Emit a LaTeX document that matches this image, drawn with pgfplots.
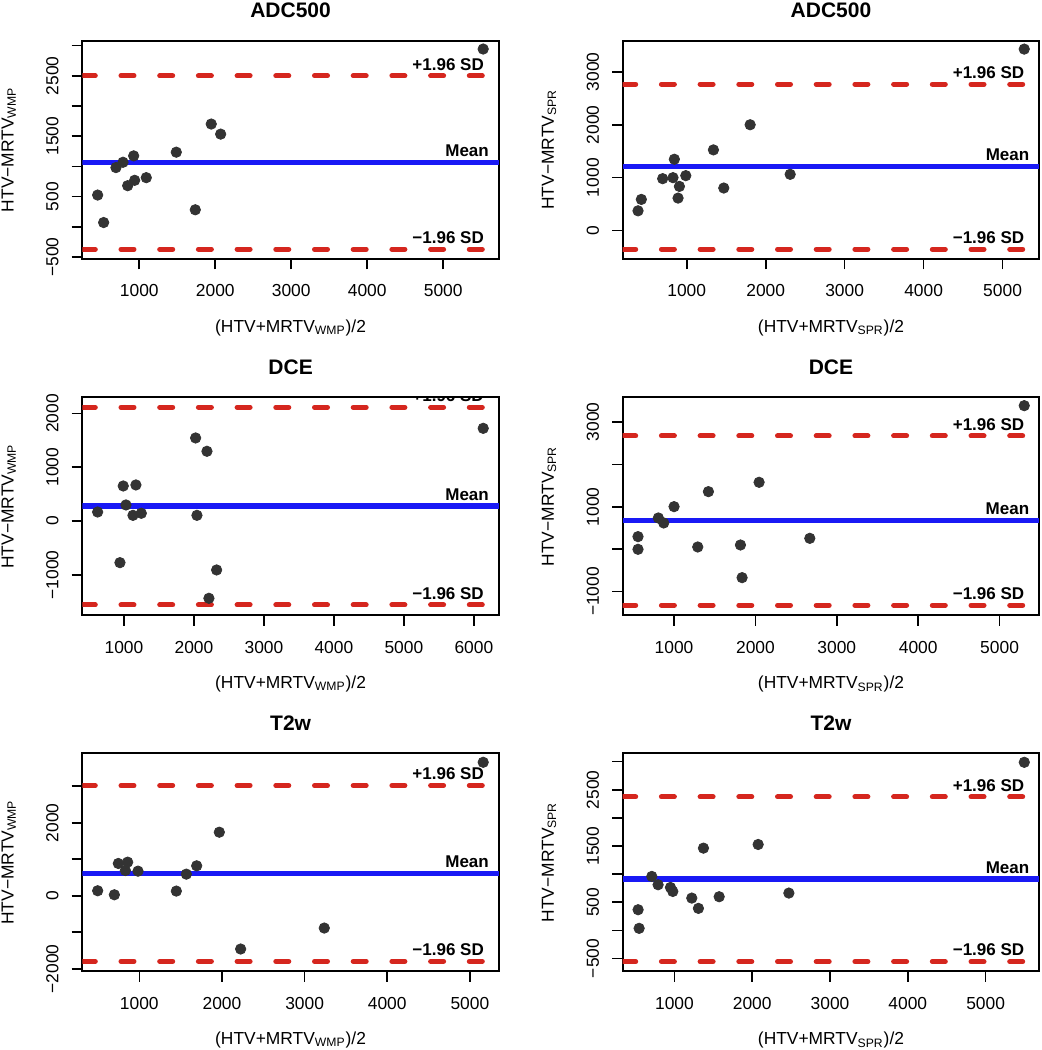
\documentclass[border=0pt]{standalone}
\usepackage{fontspec}
\setmainfont{Liberation Sans}
\usepackage{pgfplots}
\pgfplotsset{compat=1.18}
\definecolor{redd}{RGB}{213,38,30}
\definecolor{bluel}{RGB}{25,25,245}
\definecolor{dotc}{RGB}{51,51,51}
\tikzset{lab/.style={font=\bfseries\fontsize{8.5}{10}\selectfont, inner sep=0pt, anchor=east}}
\pgfplotsset{
  ba/.style={
    scale only axis, width=208.3pt, height=109pt,
    anchor=north west, clip=true,
    axis line style={line width=0.9pt, black},
    tick style={line width=0.8pt, black},
    major tick length=5.3pt, tick align=outside, tick pos=left,
    minor tick num=0,
    xticklabel style={font=\fontsize{8.7}{9}\selectfont, anchor=north, inner sep=0pt, yshift=-7.4pt},
    yticklabel style={font=\fontsize{8.7}{9}\selectfont, xshift=-6.35pt, rotate=90, anchor=south, inner sep=0pt},
    label style={font=\fontsize{8.7}{9}\selectfont},
    xlabel style={at={(axis description cs:0.5,-0.3165)}, anchor=center},
    ylabel style={at={(axis description cs:-0.1767,0.5)}, anchor=center},
    title style={at={(axis description cs:0.5,1.0826)}, anchor=center, font=\bfseries\fontsize{10.5}{12}\selectfont},
  },
  pts/.style={only marks, mark=*, mark size=2.6pt, dotc, mark options={fill=dotc, draw=dotc}},
  sdl/.style={redd, line width=2.5pt, dash pattern=on 6.5pt off 12.85pt, line cap=round},
  mnl/.style={bluel, line width=2.7pt},
}
\newcommand{\wmpx}{(HTV+MRTV\textsubscript{WMP})/2}
\newcommand{\wmpy}{HTV−MRTV\textsubscript{WMP}}
\newcommand{\sprx}{(HTV+MRTV\textsubscript{SPR})/2}
\newcommand{\spry}{HTV−MRTV\textsubscript{SPR}}
\begin{document}
\begin{tikzpicture}
\path[use as bounding box] (0,0) rectangle (521pt,-525pt);

% ---------- Panel 1: ADC500, WMP
\begin{axis}[ba, at={(41.15pt,-20.35pt)},
  title={ADC500}, xlabel={\wmpx}, ylabel={\wmpy},
  xmin=250, xmax=5733, ymin=-528, ymax=3082,
  xtick={1000,2000,3000,4000,5000}, xticklabels={1000,2000,3000,4000,5000},
  ytick={-500,0,500,1000,1500,2000,2500,3000},
  yticklabels={−500,,500,,1500,,2500,}]
\addplot[sdl] coordinates {(250,2500) (5733,2500)};
\addplot[sdl] coordinates {(250,-372) (5733,-372)};
\addplot[mnl] coordinates {(250,1064) (5733,1064)};
\addplot[pts] coordinates {
(5526,2944) (452,526) (531,71) (693,981) (786,1069) (926,1175) (847,681)
(939,770) (1092,814) (1487,1236) (1947,1702) (2071,1535) (1737,282)};
\node[lab, xshift=-7.35pt, yshift=5.75pt] at ({rel axis cs:1,0}|-{axis cs:0,2500}) {+1.96 SD};
\node[lab, xshift=-4.85pt, yshift=5.75pt] at ({rel axis cs:1,0}|-{axis cs:0,1064}) {Mean};
\node[lab, xshift=-7.35pt, yshift=5.75pt] at ({rel axis cs:1,0}|-{axis cs:0,-372}) {−1.96 SD};
\end{axis}

% ---------- Panel 2: ADC500, SPR
\begin{axis}[ba, at={(311.35pt,-20.35pt)},
  title={ADC500}, xlabel={\sprx}, ylabel={\spry},
  xmin=189, xmax=5465, ymin=-532, ymax=3589,
  xtick={1000,2000,3000,4000,5000}, xticklabels={1000,2000,3000,4000,5000},
  ytick={0,1000,2000,3000},
  yticklabels={0,1000,2000,3000}]
\addplot[sdl] coordinates {(189,2766) (5465,2766)};
\addplot[sdl] coordinates {(189,-354) (5465,-354)};
\addplot[mnl] coordinates {(189,1208) (5465,1208)};
\addplot[pts] coordinates {
(5274,3430) (383,373) (425,589) (695,981) (826,1000) (843,1348) (907,835)
(890,614) (988,1038) (1338,1525) (1469,804) (1803,2000) (2310,1063)};
\node[lab, xshift=-7.35pt, yshift=5.75pt] at ({rel axis cs:1,0}|-{axis cs:0,2766}) {+1.96 SD};
\node[lab, xshift=-4.85pt, yshift=5.75pt] at ({rel axis cs:1,0}|-{axis cs:0,1208}) {Mean};
\node[lab, xshift=-7.35pt, yshift=5.75pt] at ({rel axis cs:1,0}|-{axis cs:0,-354}) {−1.96 SD};
\end{axis}

% ---------- Panel 3: DCE, WMP
\begin{axis}[ba, at={(41.15pt,-198.65pt)},
  title={DCE}, xlabel={\wmpx}, ylabel={\wmpy},
  xmin=405, xmax=6357, ymin=-1754, ymax=2300,
  xtick={1000,2000,3000,4000,5000,6000}, xticklabels={1000,2000,3000,4000,5000,6000},
  ytick={-1000,0,1000,2000},
  yticklabels={−1000,0,1000,2000}]
\addplot[sdl] coordinates {(405,2114) (6357,2114)};
\addplot[sdl] coordinates {(405,-1562) (6357,-1562)};
\addplot[mnl] coordinates {(405,277) (6357,277)};
\addplot[pts] coordinates {
(6133,1723) (624,167) (943,-775) (990,651) (1029,298) (1129,105) (1171,670)
(1248,143) (2024,1544) (2043,105) (2186,1296) (2214,-1438) (2324,-911)};
\begin{scope}
\clip (rel axis cs:0,0) rectangle (rel axis cs:1,1);
\node[lab, xshift=-7.35pt, yshift=5.75pt] at ({rel axis cs:1,0}|-{axis cs:0,2114}) {+1.96 SD};
\end{scope}
\node[lab, xshift=-4.85pt, yshift=5.75pt] at ({rel axis cs:1,0}|-{axis cs:0,277}) {Mean};
\node[lab, xshift=-7.35pt, yshift=5.75pt] at ({rel axis cs:1,0}|-{axis cs:0,-1562}) {−1.96 SD};
\end{axis}

% ---------- Panel 4: DCE, SPR
\begin{axis}[ba, at={(311.35pt,-198.65pt)},
  title={DCE}, xlabel={\sprx}, ylabel={\spry},
  xmin=369, xmax=5488, ymin=-1560, ymax=3580,
  xtick={1000,2000,3000,4000,5000}, xticklabels={1000,2000,3000,4000,5000},
  ytick={-1000,0,1000,2000,3000},
  yticklabels={−1000,,1000,,3000}]
\addplot[sdl] coordinates {(369,2668) (5488,2668)};
\addplot[sdl] coordinates {(369,-1324) (5488,-1324)};
\addplot[mnl] coordinates {(369,672) (5488,672)};
\addplot[pts] coordinates {
(5303,3383) (557,295) (557,-4) (807,735) (873,617) (1000,1002) (1291,51)
(1422,1356) (1816,98) (1836,-672) (2045,1576) (2668,255)};
\node[lab, xshift=-7.35pt, yshift=5.75pt] at ({rel axis cs:1,0}|-{axis cs:0,2668}) {+1.96 SD};
\node[lab, xshift=-4.85pt, yshift=5.75pt] at ({rel axis cs:1,0}|-{axis cs:0,672}) {Mean};
\node[lab, xshift=-7.35pt, yshift=5.75pt] at ({rel axis cs:1,0}|-{axis cs:0,-1324}) {−1.96 SD};
\end{axis}

% ---------- Panel 5: T2w, WMP
\begin{axis}[ba, at={(41.15pt,-376.65pt)},
  title={T2w}, xlabel={\wmpx}, ylabel={\wmpy},
  xmin=310, xmax=5351, ymin=-2068, ymax=3900,
  xtick={1000,2000,3000,4000,5000}, xticklabels={1000,2000,3000,4000,5000},
  ytick={-2000,-1000,0,1000,2000,3000},
  yticklabels={−2000,,0,,2000,}]
\addplot[sdl] coordinates {(310,3016) (5351,3016)};
\addplot[sdl] coordinates {(310,-1795) (5351,-1795)};
\addplot[mnl] coordinates {(310,612) (5351,612)};
\addplot[pts] coordinates {
(5161,3654) (496,137) (698,27) (746,884) (831,692) (859,920) (984,674)
(1448,128) (1569,592) (1694,820) (1968,1740) (2226,-1458) (3238,-884)};
\node[lab, xshift=-7.35pt, yshift=5.75pt] at ({rel axis cs:1,0}|-{axis cs:0,3016}) {+1.96 SD};
\node[lab, xshift=-4.85pt, yshift=5.75pt] at ({rel axis cs:1,0}|-{axis cs:0,612}) {Mean};
\node[lab, xshift=-7.35pt, yshift=5.75pt] at ({rel axis cs:1,0}|-{axis cs:0,-1795}) {−1.96 SD};
\end{axis}

% ---------- Panel 6: T2w, SPR
\begin{axis}[ba, at={(311.35pt,-376.65pt)},
  title={T2w}, xlabel={\sprx}, ylabel={\spry},
  xmin=335, xmax=5690, ymin=-728, ymax=3148,
  xtick={1000,2000,3000,4000,5000}, xticklabels={1000,2000,3000,4000,5000},
  ytick={-500,0,500,1000,1500,2000,2500,3000},
  yticklabels={−500,,500,,1500,,2500,}]
\addplot[sdl] coordinates {(335,2373) (5690,2373)};
\addplot[sdl] coordinates {(335,-556) (5690,-556)};
\addplot[mnl] coordinates {(335,910) (5690,910)};
\addplot[pts] coordinates {
(5497,2988) (533,367) (546,36) (709,959) (790,811) (949,763) (979,692)
(1223,574) (1308,391) (1373,1462) (1575,598) (2076,1527) (2471,663)};
\node[lab, xshift=-7.35pt, yshift=5.75pt] at ({rel axis cs:1,0}|-{axis cs:0,2373}) {+1.96 SD};
\node[lab, xshift=-4.85pt, yshift=5.75pt] at ({rel axis cs:1,0}|-{axis cs:0,910}) {Mean};
\node[lab, xshift=-7.35pt, yshift=5.75pt] at ({rel axis cs:1,0}|-{axis cs:0,-556}) {−1.96 SD};
\end{axis}
\end{tikzpicture}
\end{document}
